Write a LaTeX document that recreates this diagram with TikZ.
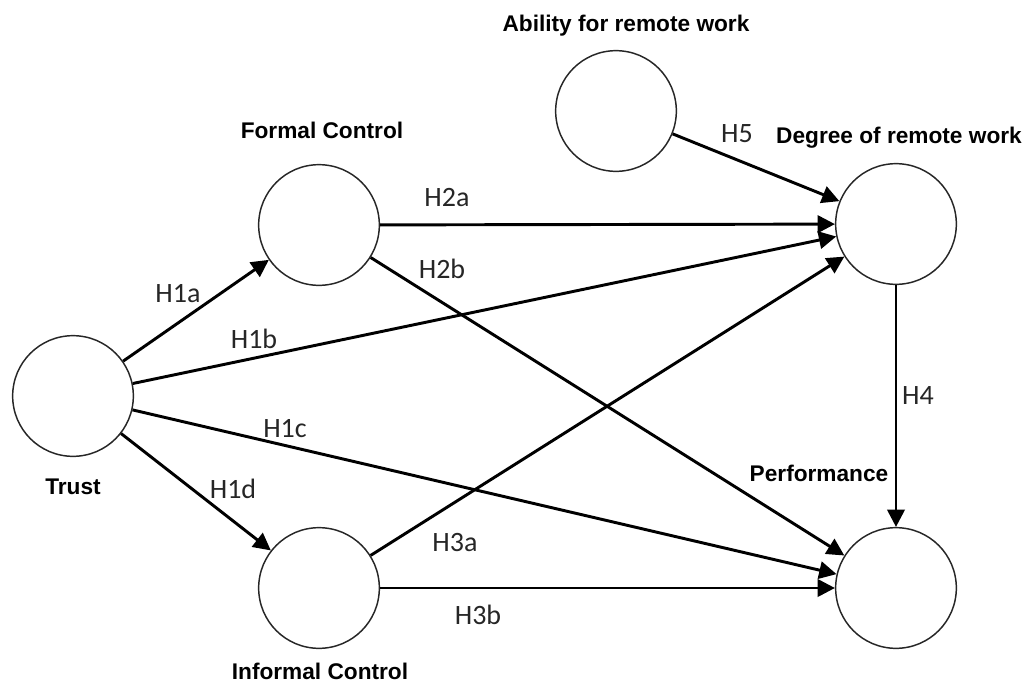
\documentclass[tikz,border=0pt]{standalone}
\usepackage{fontspec}
\usetikzlibrary{arrows.meta}
\newfontfamily\titlefont{Liberation Sans}
\newfontfamily\labfont{Carlito}
\begin{document}
\begin{tikzpicture}[x=0.75pt,y=-0.75pt,
  var/.style={circle,draw=black!85,line width=1.1pt,minimum size=90.5pt,inner sep=0pt},
  title/.style={anchor=base,inner sep=0pt,font=\titlefont\bfseries\fontsize{17}{20}\selectfont},
  hlab/.style={anchor=base,inner sep=0pt,font=\labfont\fontsize{21}{24}\selectfont,text=black!85},
  arr/.style={line width=2.2pt,-{Triangle[length=13pt,width=13pt]}}]
\useasboundingbox (0,0) rectangle (1026,693);
\node[var] (t) at (73,396) {};
\node[var] (f) at (319,225) {};
\node[var] (i) at (319,588) {};
\node[var] (a) at (616,111) {};
\node[var] (d) at (896,224) {};
\node[var] (p) at (896,588) {};
% titles
\node[title] (tt) at (73,494) {Trust};
\node[title] (ft) at (322,138) {Formal Control};
\node[title] (it) at (320,679) {Informal Control};
\node[title] (at) at (626,31) {Ability for remote work};
\node[title] (dt) at (899,143) {Degree of remote work};
\node[title] (pt) at (819,481) {Performance};
% connectors
\draw[arr] (t) -- (f);
\draw[arr] (t) -- (d);
\draw[arr] (t) -- (p);
\draw[arr] (t) -- (i);
\draw[arr] (f) -- (d);
\draw[arr] (f) -- (p);
\draw[arr] (i) -- (d);
\draw[arr] (i) -- (p);
\draw[arr] (a) -- (d);
\draw[arr] (d) -- (p);
% labels
\node[hlab] (l1a) at (178,302) {H1a};
\node[hlab] (l1b) at (254,348) {H1b};
\node[hlab] (l1c) at (285,437) {H1c};
\node[hlab] (l1d) at (233,498) {H1d};
\node[hlab] (l2a) at (447,206) {H2a};
\node[hlab] (l2b) at (442,278) {H2b};
\node[hlab] (l3a) at (455,551) {H3a};
\node[hlab] (l3b) at (478,624) {H3b};
\node[hlab] (l4) at (918,404) {H4};
\node[hlab] (l5) at (737,142) {H5};
\end{tikzpicture}
\end{document}
